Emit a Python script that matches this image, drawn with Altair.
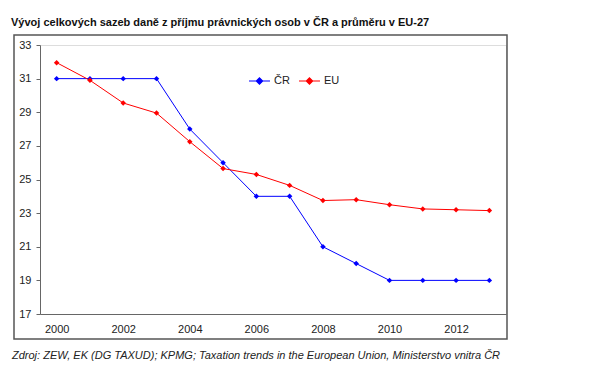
import altair as alt
import pandas as pd

years = list(range(2000, 2014))
cr_values = [31, 31, 31, 31, 28, 26, 24, 24, 21, 20, 19, 19, 19, 19]
eu_values = [31.95, 30.9, 29.55, 28.95, 27.25, 25.65, 25.3, 24.65, 23.75, 23.8, 23.5, 23.25, 23.2, 23.15]
series_names = ["ČR", "EU"]
series_colors = ["#0000ff", "#ff0000"]
x_tick_labels = [2000, 2002, 2004, 2006, 2008, 2010, 2012]
y_tick_labels = [17, 19, 21, 23, 25, 27, 29, 31, 33]
title_text = "Vývoj celkových sazeb daně z příjmu právnických osob v ČR a průměru v EU-27"
source_text = "Zdroj: ZEW, EK (DG TAXUD); KPMG; Taxation trends in the European Union, Ministerstvo vnitra ČR"

rows = []
for name, vals in zip(series_names, [cr_values, eu_values]):
    for y, v in zip(years, vals):
        rows.append({"year": y, "series": name, "value": v})
df = pd.DataFrame(rows)

FONT = "Liberation Sans"

x_enc = alt.X("year:O", scale=alt.Scale(type="point", padding=0.5),
              axis=alt.Axis(values=x_tick_labels, labelAngle=0, ticks=False, title=None,
                            labelPadding=9, labelFontSize=11, labelFont=FONT, labelColor="#222",
                            domainColor="#666"))
y_enc = alt.Y("value:Q", scale=alt.Scale(domain=[17, 33], nice=False, zero=False),
              axis=alt.Axis(values=y_tick_labels, grid=False, title=None, tickSize=4,
                            tickColor="#666", domainColor="#666", labelPadding=5,
                            labelFontSize=11, labelFont=FONT, labelColor="#222"))

legend_path = "M-1,0L1,0M0,-0.3L0.3,0L0,0.3L-0.3,0ZM0,-0.2L0.2,0L0,0.2L-0.2,0ZM0,-0.1L0.1,0L0,0.1L-0.1,0Z"

lines = alt.Chart(df).mark_line(strokeWidth=1).encode(
    x=x_enc, y=y_enc,
    color=alt.Color("series:N", scale=alt.Scale(domain=series_names, range=series_colors),
                    legend=alt.Legend(orient="none", legendX=208, legendY=24, direction="horizontal",
                                      title=None, symbolType=legend_path, symbolSize=441,
                                      symbolStrokeWidth=1.2, labelFont=FONT, labelFontSize=11,
                                      labelColor="#222", labelOffset=3, columnPadding=6, padding=0)),
)

points = alt.Chart(df).mark_point(shape="diamond", filled=True, size=30, opacity=1).encode(
    x=x_enc, y=y_enc,
    fill=alt.Fill("series:N", scale=alt.Scale(domain=series_names, range=series_colors), legend=None),
)

frame = alt.Chart(pd.DataFrame({"a": [0]})).mark_rect(fill=None, stroke="#555", strokeWidth=1.5).encode(
    x=alt.value(-26), x2=alt.value(467), y=alt.value(-10), y2=alt.value(294)
)

source = alt.Chart(pd.DataFrame({"a": [0]})).mark_text(
    align="left", baseline="alphabetic", font=FONT, fontSize=11, fontStyle="italic", color="#222"
).encode(x=alt.value(-28), y=alt.value(314), text=alt.value(source_text))

chart = alt.layer(frame, lines, points, source).properties(
    width=466, height=269,
    autosize=alt.AutoSizeParams(type="none"),
    padding={"left": 32, "top": 37, "right": 60, "bottom": 48},
    title=alt.TitleParams(title_text, anchor="start", dx=-1, offset=6, font=FONT,
                          fontSize=11, fontWeight="bold", color="#111"),
).configure_view(stroke="#a0a0a0", strokeWidth=1).configure(background="white")

chart.save("out.html", embed_options={"renderer": "svg", "actions": False})
